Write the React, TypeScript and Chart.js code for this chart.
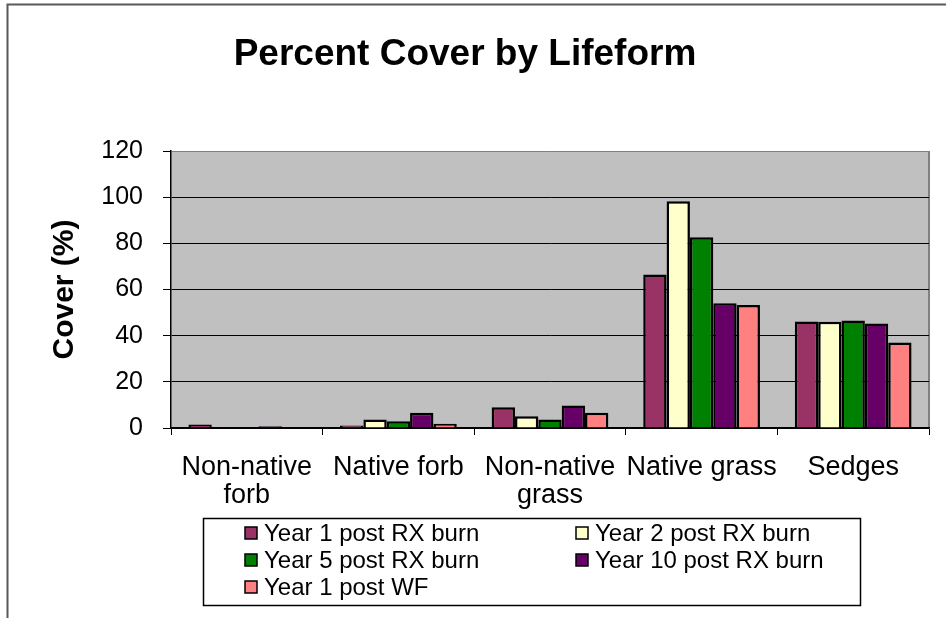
import { useEffect, useRef } from "react";
import { Chart, registerables } from "chart.js";

Chart.register(...registerables);

// Lifeform categories (multi-line where the label wraps)
const categories: (string | string[])[] = [
  ["Non-native", "forb"],
  "Native forb",
  ["Non-native", "grass"],
  "Native grass",
  "Sedges",
];

const seriesNames = [
  "Year 1 post RX burn",
  "Year 2 post RX burn",
  "Year 5 post RX burn",
  "Year 10 post RX burn",
  "Year 1 post WF",
];

// Percent cover per lifeform
const year1Rx = [1.5, 1.1, 9.0, 66.5, 46.1];
const year2Rx = [0, 3.7, 5.1, 98.2, 46.0];
const year5Rx = [0, 2.9, 3.7, 82.6, 46.6];
const year10Rx = [0.8, 6.6, 9.7, 54.0, 45.3];
const year1Wf = [0, 1.8, 6.6, 53.3, 37.0];

const seriesColors = ["#993366", "#FFFFCC", "#008000", "#660066", "#FF8080"];

const yMin = 0;
const yMax = 120;
const yStep = 20;

const FONT = "'Liberation Sans', Arial, sans-serif";

const W = 946;
const H = 618;

const decorPlugin = {
  id: "decor",
  beforeDraw(chart: any) {
    const { ctx, chartArea } = chart;
    ctx.save();
    ctx.fillStyle = "#ffffff";
    ctx.fillRect(0, 0, chart.width, chart.height);
    ctx.fillStyle = "#C0C0C0";
    ctx.fillRect(chartArea.left, chartArea.top, chartArea.right - chartArea.left, chartArea.bottom - chartArea.top);
    // plot area border (right side)
    ctx.strokeStyle = "#808080";
    ctx.lineWidth = 2;
    ctx.beginPath();
    ctx.moveTo(chartArea.right, chartArea.top);
    ctx.lineTo(chartArea.right, chartArea.bottom);
    ctx.stroke();
    ctx.restore();
  },
  afterDraw(chart: any) {
    const { ctx, chartArea } = chart;
    ctx.save();

    // outer chart frame
    ctx.strokeStyle = "#595959";
    ctx.lineWidth = 2;
    ctx.beginPath();
    ctx.moveTo(7.5, H);
    ctx.lineTo(7.5, 4.5);
    ctx.lineTo(W, 4.5);
    ctx.stroke();

    // title
    ctx.fillStyle = "#000";
    ctx.textAlign = "center";
    ctx.textBaseline = "middle";
    ctx.font = `bold 37px ${FONT}`;
    ctx.fillText("Percent Cover by Lifeform", 465, 55);

    // y-axis title
    ctx.save();
    ctx.translate(65, (chartArea.top + chartArea.bottom) / 2);
    ctx.rotate(-Math.PI / 2);
    ctx.font = `bold 30px ${FONT}`;
    ctx.fillText("Cover (%)", 0, 0);
    ctx.restore();

    // legend
    const box = { x: 203.5, y: 518.5, w: 657, h: 87 };
    ctx.strokeStyle = "#000";
    ctx.lineWidth = 1.5;
    ctx.strokeRect(box.x, box.y, box.w, box.h);
    const colMarkerX = [245, 576];
    const rowY = [533, 560, 587];
    ctx.font = `24px ${FONT}`;
    ctx.textAlign = "left";
    ctx.textBaseline = "middle";
    chart.data.datasets.forEach((ds: any, i: number) => {
      const col = i % 2;
      const row = Math.floor(i / 2);
      const mx = colMarkerX[col];
      const my = rowY[row];
      ctx.fillStyle = ds.backgroundColor;
      ctx.fillRect(mx, my - 6, 12, 12);
      ctx.strokeStyle = "#000";
      ctx.lineWidth = 1.5;
      ctx.strokeRect(mx, my - 6, 12, 12);
      ctx.fillStyle = "#000";
      ctx.fillText(ds.label, mx + 19, my + 1);
    });

    ctx.restore();
  },
};

export default function App() {
  const canvasRef = useRef<HTMLCanvasElement | null>(null);

  useEffect(() => {
    if (!canvasRef.current) return;
    const values = [year1Rx, year2Rx, year5Rx, year10Rx, year1Wf];
    const chart = new Chart(canvasRef.current, {
      type: "bar",
      data: {
        labels: categories,
        datasets: seriesNames.map((name, i) => ({
          label: name,
          data: values[i],
          backgroundColor: seriesColors[i],
          borderColor: "#000000",
          borderWidth: 2.5,
          categoryPercentage: 0.77,
          barPercentage: 1.0,
        })),
      },
      options: {
        responsive: false,
        animation: false,
        devicePixelRatio: 1,
        layout: { padding: { top: 151, left: 0, right: 17, bottom: 0 } },
        plugins: {
          legend: { display: false },
          title: { display: false },
          tooltip: { enabled: false },
        },
        scales: {
          x: {
            grid: {
              offset: true,
              drawOnChartArea: false,
              tickLength: 7,
              color: "#000",
              lineWidth: 1,
            },
            border: { display: true, color: "#000", width: 1.5 },
            ticks: {
              color: "#000",
              font: { family: FONT, size: 27, lineHeight: "28px" },
              padding: 19,
              maxRotation: 0,
              minRotation: 0,
              autoSkip: false,
            },
            afterFit(scale: any) {
              scale.height = 190;
            },
          },
          y: {
            min: yMin,
            max: yMax,
            ticks: {
              stepSize: yStep,
              color: "#000",
              font: { family: FONT, size: 25 },
              padding: 20,
            },
            grid: {
              color: (c: any) => (c.tick && c.tick.value === yMax ? "#808080" : "#000"),
              tickColor: "#000",
              tickLength: 8,
              lineWidth: 1,
            },
            border: { display: true, color: "#000", width: 1.5 },
            afterFit(scale: any) {
              scale.width = 171;
            },
          },
        },
      },
      plugins: [decorPlugin],
    });
    return () => chart.destroy();
  }, []);

  return (
    <div style={{ position: "absolute", left: 0, top: 0, width: W, height: H, background: "#fff" }}>
      <canvas ref={canvasRef} width={W} height={H} style={{ display: "block", width: W, height: H }} />
    </div>
  );
}
